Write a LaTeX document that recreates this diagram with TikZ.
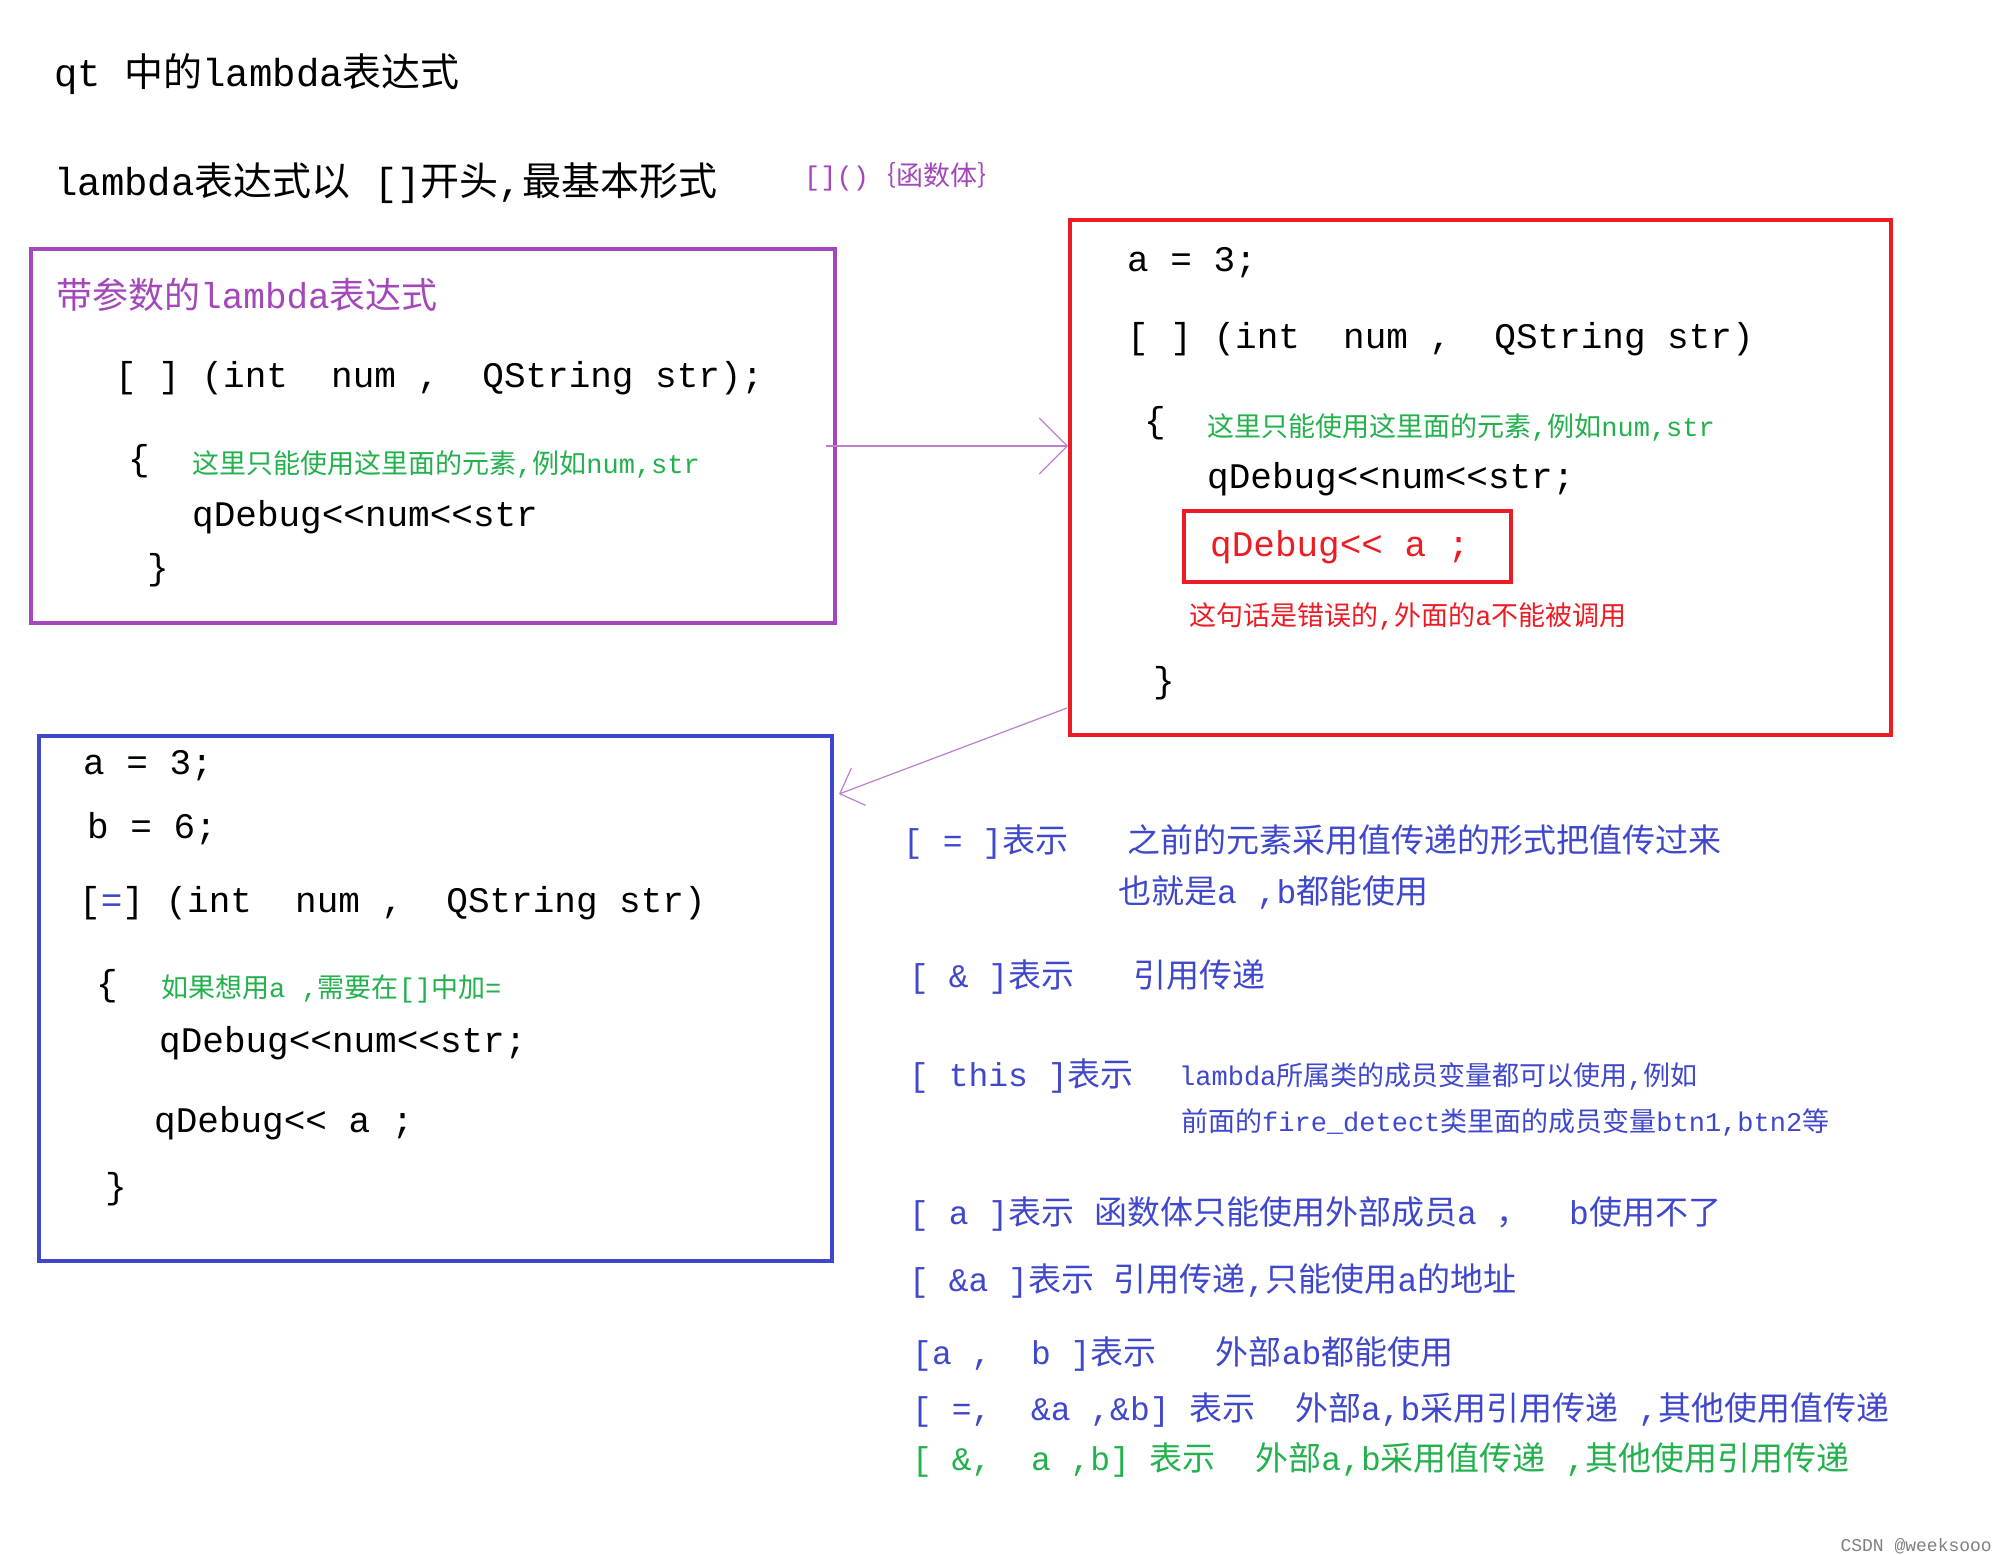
\documentclass[tikz,border=0pt]{standalone}
\usepackage{fontspec}
\setmainfont{Liberation Mono}
\newfontfamily\cjkf{Noto Sans CJK SC}
\usetikzlibrary{arrows.meta}
\makeatletter
\newXeTeXintercharclass\cjkcls
\count@="3000
\loop\ifnum\count@<"A000 \XeTeXcharclass\count@=\cjkcls \advance\count@ 1 \repeat
\count@="FF00
\loop\ifnum\count@<"FFF0 \XeTeXcharclass\count@=\cjkcls \advance\count@ 1 \repeat
\makeatother
\XeTeXinterchartokenstate=1
\XeTeXinterchartoks 0 \cjkcls = {\begingroup\cjkf}
\XeTeXinterchartoks 4095 \cjkcls = {\begingroup\cjkf}
\XeTeXinterchartoks \cjkcls 0 = {\endgroup}
\XeTeXinterchartoks \cjkcls 4095 = {\endgroup}
\definecolor{pur}{HTML}{A347BA}
\definecolor{rd}{HTML}{ED1C24}
\definecolor{bl}{HTML}{3F48CC}
\definecolor{gr}{HTML}{22B14C}
\definecolor{tb}{HTML}{3F48CC}
\begin{document}
\begin{tikzpicture}[x=1pt,y=-1pt,
  t/.style={anchor=west,inner sep=0pt},
  big/.style={t,font=\fontsize{36}{40}\selectfont},
  ttl/.style={t,font=\fontsize{39}{42}\selectfont},
  sml/.style={t,font=\fontsize{27}{30}\selectfont},
  rt/.style={t,font=\fontsize{33}{36}\selectfont,text=tb}]
\useasboundingbox (0,0) rectangle (1998,1555);
\fill[white] (0,0) rectangle (1998,1555);
\node[ttl] (t1) at (54,74) {qt 中的lambda表达式};
\node[ttl] (t2) at (54,183) {lambda表达式以 []开头,最基本形式};
\node[sml,text=pur] (t3) at (804,177) {[]()｛函数体｝};
% purple box
\node[draw=pur,line width=4pt,minimum width=804pt,minimum height=374pt,anchor=north west] (pb) at (29,247) {};
\node[big,text=pur] at (56,295) {带参数的lambda表达式};
\node[big] at (115,378) {[ ] (int~ num ,~ QString str);};
\node[big] at (128,461) {\{};
\node[sml,text=gr] at (192,464) {这里只能使用这里面的元素,例如num,str};
\node[big] at (192,517) {qDebug<{}<num<{}<str};
\node[big] at (147,570) {\}};
% red box
\node[draw=rd,line width=4pt,minimum width=821pt,minimum height=515pt,anchor=north west] (rb) at (1068,218) {};
\node[big] at (1127,263) {a = 3;};
\node[big] at (1127,339) {[ ] (int~ num ,~ QString str)};
\node[big] at (1144,423) {\{};
\node[sml,text=gr] at (1207,427) {这里只能使用这里面的元素,例如num,str};
\node[big] at (1207,479) {qDebug<{}<num<{}<str;};
\node[draw=rd,line width=4pt,minimum width=327pt,minimum height=71pt,anchor=north west] (ib) at (1182,509) {};
\node[big,text=rd] at (1210,547) {qDebug<{}< a ;};
\node[sml,text=rd] at (1189,616) {这句话是错误的,外面的a不能被调用};
\node[big] at (1153,683) {\}};
% blue box
\node[draw=bl,line width=4pt,minimum width=793pt,minimum height=525pt,anchor=north west] (bb) at (37,734) {};
\node[big] at (83,766) {a = 3;};
\node[big] at (87,829) {b = 6;};
\node[big] at (79,903) {[\textcolor{bl}{=}] (int~ num ,~ QString str)};
\node[big] at (96,986) {\{};
\node[sml,text=gr] at (161,989) {如果想用a ,需要在[]中加=};
\node[big] at (159,1043) {qDebug<{}<num<{}<str;};
\node[big] at (154,1123) {qDebug<{}< a ;};
\node[big] at (105,1189) {\}};
% arrows
\coordinate (a1s) at (826,446);
\coordinate (a2e) at (839,794);
\draw[pur!70,line width=1.2pt,-{Straight Barb[length=28pt,width=56pt]}] (a1s) -- (rb.west|-a1s);
\draw[pur!70,line width=1.2pt,-{Straight Barb[length=20pt,width=40pt]}] (1067,708) -- (a2e);
% right texts
\node[rt] at (903,842) {[ = ]表示~~ 之前的元素采用值传递的形式把值传过来};
\node[rt] at (1118,893) {也就是a ,b都能使用};
\node[rt] at (909,977) {[ \& ]表示~~ 引用传递};
\node[rt] at (909,1076) {[ this ]表示};
\node[sml,text=tb] at (1179,1076) {lambda所属类的成员变量都可以使用,例如};
\node[sml,text=tb] at (1181,1122) {前面的fire\_detect类里面的成员变量btn1,btn2等};
\node[rt] at (909,1214) {[ a ]表示 函数体只能使用外部成员a ，~ b使用不了};
\node[rt] at (909,1281) {[ \&a ]表示 引用传递,只能使用a的地址};
\node[rt] at (912,1354) {[a ,~ b ]表示~~ 外部ab都能使用};
\node[rt] at (912,1410) {[ =,~ \&a ,\&b] 表示~ 外部a,b采用引用传递 ,其他使用值传递};
\node[rt,text=gr] at (912,1460) {[ \&,~ a ,b] 表示~ 外部a,b采用值传递 ,其他使用引用传递};
\node[t,anchor=east,font=\fontsize{18}{20}\selectfont,text=gray] at (1992,1546) {CSDN @weeksooo};
\end{tikzpicture}
\end{document}
